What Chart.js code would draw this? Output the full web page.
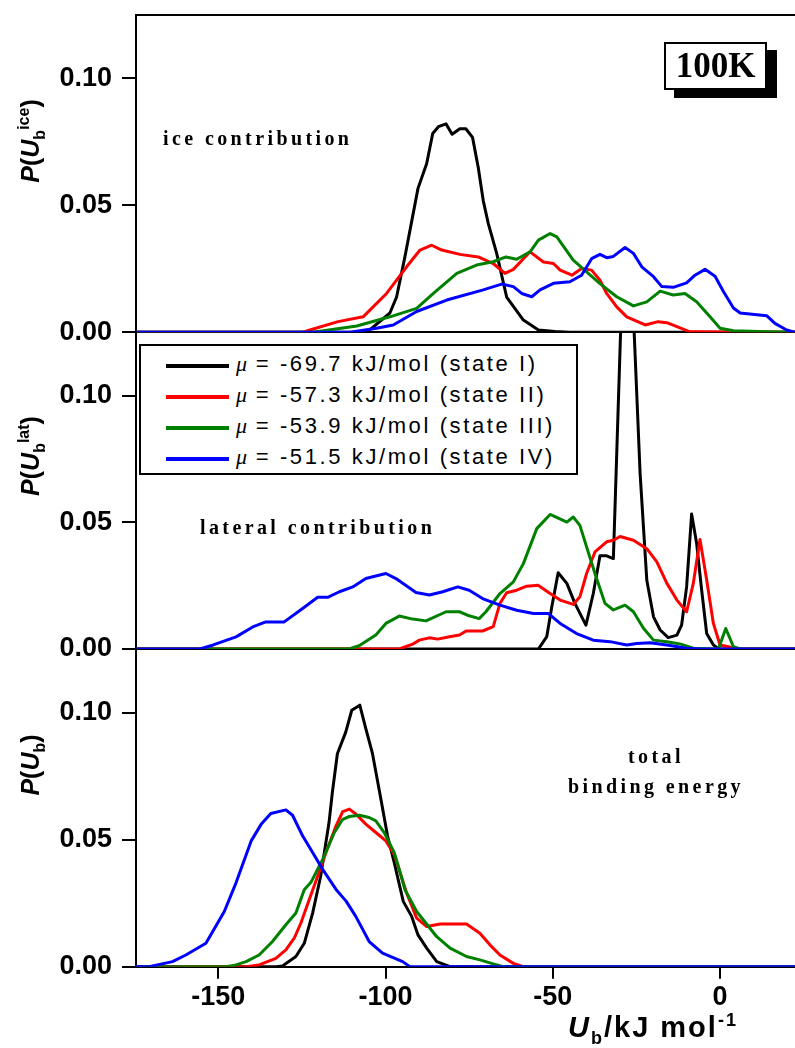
<!DOCTYPE html>
<html>
<head>
<meta charset="utf-8">
<script src="https://cdn.jsdelivr.net/npm/chart.js@4.4.0/dist/chart.umd.min.js"></script>
<style>
  body { margin: 0; background: #fff; }
  #wrap { position: relative; width: 795px; height: 1048px; overflow: hidden; font-family: "Liberation Sans", Arial, sans-serif; }
  canvas { position: absolute; left: 0; }
  .ytitle { position: absolute; font: bold 25px "Liberation Sans", Arial, sans-serif; white-space: nowrap; line-height: 25px; transform: translate(-50%, -50%) rotate(-90deg); }
  .ytitle sub, .ytitle sup, .xtitle sub, .xtitle sup { font-size: 16px; line-height: 0; }
  .note { position: absolute; font: bold 20px "Liberation Serif", "Times New Roman", serif; letter-spacing: 3.4px; white-space: nowrap; line-height: 20px; }
  #legend { position: absolute; left: 139px; top: 344px; width: 439px; height: 131px; border: 2px solid #000; box-sizing: border-box; background: #fff; }
  .row { position: absolute; left: 0; height: 31px; width: 100%; }
  .row .ln { position: absolute; left: 25px; top: 13px; width: 63px; height: 4px; }
  .row .tx { position: absolute; left: 95px; top: 0; line-height: 31px; font: 22px "Liberation Sans", Arial, sans-serif; letter-spacing: 2.6px; white-space: nowrap; }
  .row .tx i { font-family: "Liberation Serif", serif; letter-spacing: 0; }
  #tag { position: absolute; left: 664px; top: 42px; width: 103px; height: 48px; border: 2px solid #000; box-sizing: border-box; background: #fff; box-shadow: 10px 8px 0 #000; font: bold 35px "Liberation Serif", "Times New Roman", serif; text-align: center; line-height: 44px; }
</style>
</head>
<body>
<div id="wrap">
  <canvas id="c1" width="795" height="360" style="top:0px"></canvas>
  <canvas id="c2" width="795" height="360" style="top:318px"></canvas>
  <canvas id="c3" width="795" height="412" style="top:636px"></canvas>
  <div style="position:absolute;left:135px;top:14px;width:660px;height:2px;background:#000"></div>

  <div class="ytitle" style="left:30px;top:141px"><i>P</i>(<i>U</i><sub>b</sub><sup>ice</sup>)</div>
  <div class="ytitle" style="left:30px;top:456px"><i>P</i>(<i>U</i><sub>b</sub><sup>lat</sup>)</div>
  <div class="ytitle" style="left:30px;top:765px"><i>P</i>(<i>U</i><sub>b</sub>)</div>

  <div class="xtitle" style="position:absolute;left:568px;top:1013px;font:bold 29px 'Liberation Sans',Arial,sans-serif;letter-spacing:2px;line-height:29px;white-space:nowrap"><i>U</i><sub style="font-size:18px">b</sub>/kJ mol<sup style="font-size:18px">-1</sup></div>

  <div class="note" style="left:163px;top:128px">ice contribution</div>
  <div class="note" style="left:200px;top:517px">lateral contribution</div>
  <div class="note" style="left:656px;top:741px;transform:translateX(-50%);text-align:center;line-height:30px">total<br>binding energy</div>

  <div id="tag">100K</div>
  <div id="legend"></div>
</div>
<script>
// x axis / y axis ticks
const xTicks = [-150, -100, -50, 0];
const yTicks = [0, 0.05, 0.10];
const xMin = -174.6, xMax = 22.4, yMax = 0.125;

const stateColors = ["#000000", "#ff0000", "#008000", "#0000ff"];
const stateLabels = [
  "-69.7 kJ/mol (state I)",
  "-57.3 kJ/mol (state II)",
  "-53.9 kJ/mol (state III)",
  "-51.5 kJ/mol (state IV)",
];

// ice contribution  [U_b, P]
const iceI = [[-175,0],[-105.6,0],[-98.7,0.0076],[-96.7,0.0139],[-94.2,0.0298],[-90.3,0.0567],[-87.7,0.0665],[-85.9,0.0783],[-84.2,0.0810],[-81.9,0.0821],[-80.1,0.0780],[-77.8,0.0802],[-76.0,0.0802],[-74.0,0.0768],[-72.3,0.0650],[-70.8,0.0519],[-69.3,0.0429],[-66.8,0.0312],[-63.8,0.0139],[-58.8,0.0048],[-54.3,0.0009],[-49.3,0.0003],[-45,0],[23,0]];
const iceII = [[-175,0],[-124.7,0],[-122.6,0.0009],[-114.2,0.0042],[-106.7,0.0061],[-99.7,0.0153],[-93.7,0.0258],[-89.7,0.0324],[-86.2,0.0343],[-83.2,0.0324],[-77.8,0.0307],[-72.3,0.0297],[-67.8,0.0271],[-64.3,0.0232],[-61.8,0.0248],[-56.8,0.0317],[-52.8,0.0277],[-49.8,0.0271],[-47.8,0.0245],[-44.3,0.0225],[-41.4,0.0251],[-38.4,0.0245],[-35.9,0.0205],[-33.9,0.0153],[-30.9,0.0100],[-27.9,0.0061],[-22.4,0.0029],[-18.5,0.0042],[-15.9,0.0038],[-12.9,0.0022],[-9.0,0.0002],[23,0]];
const iceIII = [[-175,0],[-121.7,0],[-108.6,0.0025],[-98.7,0.0061],[-90.7,0.0094],[-85.7,0.0153],[-78.7,0.0232],[-72.8,0.0265],[-67.8,0.0278],[-64.0,0.0297],[-60.8,0.0288],[-56.8,0.0317],[-54.3,0.0363],[-50.8,0.0389],[-48.8,0.0376],[-43.9,0.0284],[-35.9,0.0192],[-30.9,0.0140],[-25.9,0.0104],[-21.9,0.0120],[-17.9,0.0162],[-14.0,0.0147],[-10.5,0.0153],[-7.0,0.0120],[-3.0,0.0061],[0,0.0016],[4.0,0.0006],[14,0.0002],[22.4,0],[23,0]];
const iceIV = [[-175,0],[-110.6,0],[-102.7,0.0016],[-97.7,0.0029],[-90.7,0.0082],[-81.7,0.0127],[-70.8,0.0167],[-65.3,0.0190],[-61.8,0.0180],[-59.3,0.0153],[-56.3,0.0140],[-53.8,0.0167],[-49.8,0.0193],[-44.9,0.0199],[-41.4,0.0225],[-38.4,0.0290],[-35.9,0.0307],[-33.9,0.0294],[-31.9,0.0299],[-28.4,0.0334],[-25.9,0.0311],[-23.4,0.0258],[-19.9,0.0219],[-17.4,0.0180],[-14.0,0.0177],[-10.0,0.0195],[-7.5,0.0225],[-4.5,0.0248],[-1.5,0.0221],[1.0,0.0161],[4.0,0.0096],[6.0,0.0076],[11.0,0.0069],[14.0,0.0065],[16.4,0.0035],[19.9,0.0009],[22.4,0],[23,0]];

// lateral contribution
const latI = [[-175,0],[-54.3,0],[-51.8,0.0049],[-50.3,0.0167],[-48.4,0.0301],[-45.8,0.0259],[-43.4,0.0180],[-40.1,0.0094],[-37.9,0.0219],[-35.9,0.0368],[-33.9,0.0368],[-31.9,0.0357],[-31.4,0.0560],[-29.5,0.135],[-26.0,0.135],[-23.9,0.0692],[-22.9,0.0481],[-21.9,0.0271],[-19.9,0.0127],[-17.9,0.0075],[-15.5,0.0045],[-12.9,0.0055],[-11.5,0.0094],[-10.0,0.0245],[-8.5,0.0533],[-7.0,0.0416],[-5.5,0.0232],[-4.0,0.0061],[-2.0,0.0016],[-0.5,0],[23,0]];
const latII = [[-175,0],[-95.9,0],[-91.9,0.0019],[-89.9,0.0035],[-86.9,0.0044],[-84.4,0.0039],[-80.9,0.0048],[-77.9,0.0055],[-75.9,0.0071],[-71.0,0.0071],[-67.8,0.0088],[-65.8,0.0180],[-63.8,0.0222],[-60.8,0.0232],[-57.8,0.0248],[-54.4,0.0252],[-50.8,0.0219],[-47.8,0.0193],[-43.9,0.0176],[-41.9,0.0206],[-39.9,0.0298],[-37.4,0.0383],[-33.9,0.0423],[-31.9,0.0429],[-29.9,0.0444],[-25.9,0.0429],[-21.9,0.0396],[-18.9,0.0344],[-15.9,0.0259],[-12.9,0.0193],[-10.0,0.0147],[-8.0,0.0259],[-6.0,0.0432],[-4.0,0.0272],[-2.0,0.0101],[0,0.0016],[2.5,0.0009],[4.5,0],[23,0]];
const latIII = [[-175,0],[-110.9,0],[-107.9,0.0013],[-102.9,0.0055],[-99.9,0.0101],[-95.9,0.0130],[-91.9,0.0118],[-87.9,0.0111],[-81.9,0.0147],[-77.9,0.0147],[-75.0,0.0131],[-72.0,0.0120],[-70.0,0.0147],[-65.8,0.0219],[-61.8,0.0265],[-58.8,0.0337],[-54.8,0.0475],[-50.8,0.0531],[-45.8,0.0501],[-43.9,0.0521],[-41.9,0.0488],[-39.9,0.0403],[-37.4,0.0298],[-34.4,0.0180],[-31.9,0.0154],[-28.4,0.0173],[-25.9,0.0147],[-22.9,0.0082],[-19.9,0.0035],[-15.9,0.0029],[-12.0,0.0020],[-8.0,0.0003],[-0.5,0],[1.7,0.0081],[4.0,0.0009],[6,0],[23,0]];
const latIV = [[-175,0],[-155.5,0],[-151.5,0.0016],[-144.7,0.0048],[-139.7,0.0087],[-135.8,0.0107],[-130.3,0.0107],[-124.8,0.0160],[-120.3,0.0204],[-117.3,0.0204],[-113.8,0.0226],[-109.8,0.0245],[-105.9,0.0278],[-99.9,0.0298],[-96.9,0.0278],[-90.9,0.0223],[-86.9,0.0213],[-82.9,0.0226],[-78.4,0.0245],[-75.0,0.0232],[-71.0,0.0199],[-65.8,0.0173],[-60.8,0.0153],[-55.8,0.0140],[-51.3,0.0140],[-47.8,0.0101],[-42.9,0.0061],[-37.9,0.0035],[-32.9,0.0029],[-27.9,0.0016],[-24.9,0.0022],[-20.9,0.0025],[-15.9,0.0016],[-10.0,0.0003],[-6,0],[23,0]];

// total binding energy
const totI = [[-175,0],[-132.8,0],[-130.8,0.0003],[-126.8,0.0040],[-124.3,0.0092],[-121.8,0.0211],[-119.4,0.0356],[-116.9,0.0567],[-115.9,0.0686],[-114.4,0.0838],[-111.9,0.0923],[-110.1,0.1009],[-107.7,0.1029],[-105.9,0.0937],[-103.9,0.0838],[-101.4,0.0660],[-99.4,0.0514],[-97.4,0.0409],[-94.7,0.0257],[-92.2,0.0198],[-90.3,0.0125],[-87.7,0.0073],[-84.7,0.0020],[-80.7,0],[23,0]];
const totII = [[-175,0],[-141.7,0],[-137.8,0.0007],[-132.8,0.0033],[-129.8,0.0066],[-127.3,0.0112],[-125.3,0.0172],[-122.8,0.0264],[-120.3,0.0356],[-117.8,0.0449],[-114.8,0.0554],[-112.8,0.0610],[-110.8,0.0620],[-108.8,0.0600],[-105.9,0.0561],[-102.9,0.0528],[-99.9,0.0495],[-97.4,0.0442],[-93.7,0.0290],[-90.7,0.0191],[-87.7,0.0158],[-83.7,0.0168],[-75.8,0.0168],[-71.8,0.0132],[-68.8,0.0086],[-65.8,0.0046],[-61.8,0.0013],[-58.8,0],[23,0]];
const totIII = [[-175,0],[-147.7,0],[-144.7,0.0007],[-141.7,0.0020],[-137.8,0.0046],[-133.8,0.0099],[-129.8,0.0165],[-126.8,0.0211],[-124.3,0.0303],[-122.3,0.0332],[-118.8,0.0422],[-115.3,0.0528],[-112.8,0.0580],[-110.8,0.0591],[-107.8,0.0596],[-104.9,0.0587],[-102.9,0.0574],[-100.4,0.0528],[-97.4,0.0449],[-96.2,0.0396],[-94.2,0.0303],[-90.7,0.0217],[-84.7,0.0118],[-80.7,0.0073],[-75.8,0.0040],[-71.8,0.0027],[-67.8,0.0011],[-64.8,0],[23,0]];
const totIV = [[-175,0],[-170.7,0],[-163.7,0.0020],[-159.7,0.0046],[-153.7,0.0092],[-148.2,0.0217],[-144.7,0.0330],[-140.2,0.0494],[-137.2,0.0560],[-134.3,0.0603],[-129.8,0.0617],[-127.8,0.0596],[-124.8,0.0515],[-121.8,0.0449],[-118.8,0.0383],[-114.8,0.0304],[-111.8,0.0258],[-108.9,0.0198],[-104.9,0.0099],[-100.9,0.0053],[-94.9,0.0020],[-92.7,0],[23,0]];

//legend (html, box inside middle panel)
const legendEl = document.getElementById("legend");
stateLabels.forEach((lab, i) => {
  const row = document.createElement("div");
  row.className = "row";
  row.style.top = (5 + i * 31) + "px";
  row.innerHTML = '<div class="ln" style="background:' + stateColors[i] + '"></div>' +
    '<div class="tx"><i>\u03bc</i> = ' + lab + "</div>";
  legendEl.appendChild(row);
});

const tickFont = { family: "'Liberation Sans', Arial, sans-serif", size: 27, weight: "bold", lineHeight: 1 };

function panel(id, series, padTop, xHeight, showX) {
  return new Chart(document.getElementById(id), {
    type: "line",
    data: {
      datasets: series.map((pts, i) => ({
        data: pts.map((p) => ({ x: p[0], y: p[1] })),
        borderColor: stateColors[i],
        borderWidth: 3,
        pointRadius: 0,
        tension: 0,
        fill: false,
        borderJoinStyle: "round",
        order: 3 - i,
      })),
    },
    options: {
      responsive: false,
      animation: false,
      layout: { padding: { top: padTop, left: 0, right: 0, bottom: 0 } },
      plugins: { legend: { display: false }, tooltip: { enabled: false } },
      scales: {
        x: {
          type: "linear",
          min: xMin,
          max: xMax,
          afterBuildTicks: (s) => { s.ticks = xTicks.map((v) => ({ value: v })); },
          afterFit: (s) => { s.height = xHeight; s.paddingLeft = 0; s.paddingRight = 0; },
          ticks: { display: showX, font: tickFont, color: "#000", padding: 5, maxRotation: 0 },
          grid: { display: showX, drawOnChartArea: false, tickLength: 12, color: "#000", lineWidth: 2 },
          border: { display: true, color: "#000", width: 2 },
        },
        y: {
          min: 0,
          max: yMax,
          afterBuildTicks: (s) => { s.ticks = yTicks.map((v) => ({ value: v })); },
          afterFit: (s) => { s.width = 136; s.paddingTop = 0; s.paddingBottom = 0; },
          ticks: { font: tickFont, color: "#000", padding: 10, callback: (v) => v.toFixed(2) },
          grid: { drawOnChartArea: false, tickLength: 14, color: "#000", lineWidth: 2 },
          border: { display: true, color: "#000", width: 2 },
        },
      },
    },
  });
}

panel("c1", [iceI, iceII, iceIII, iceIV], 15, 27.7, false);
panel("c2", [latI, latII, latIII, latIV], 14.3, 29, false);
panel("c3", [totI, totII, totIII, totIV], 13, 81.3, true);
</script>
</body>
</html>
